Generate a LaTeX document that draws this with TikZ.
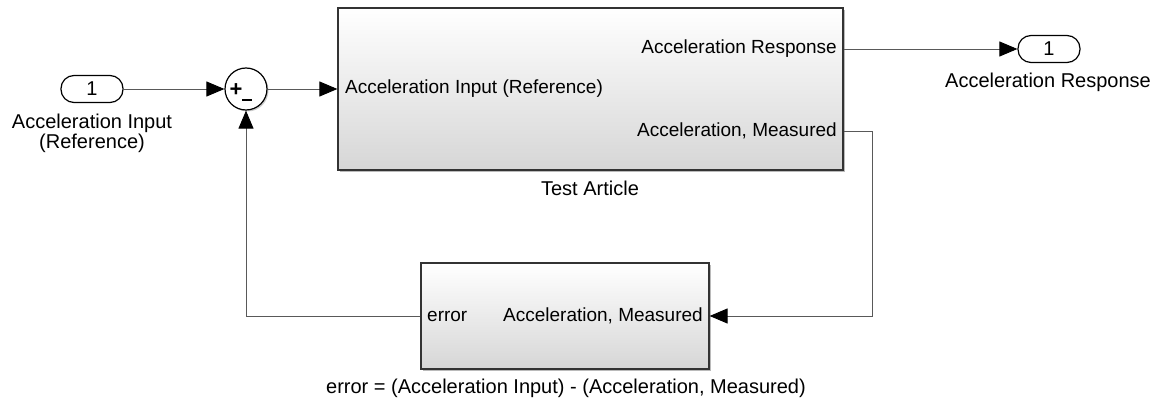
\documentclass[tikz,border=0pt]{standalone}
\usepackage{fontspec}
\setmainfont{Liberation Sans}
\usetikzlibrary{arrows.meta,shadows}
\begin{document}
\begin{tikzpicture}[x=1pt,y=-1pt,
  lbl/.style={font=\fontsize{20}{24}\selectfont, inner sep=0pt},
  plbl/.style={font=\fontsize{19}{23}\selectfont, inner sep=0pt},
  blk/.style={draw=black!80, line width=1.2pt, top color=white, bottom color=black!16,
    drop shadow={shadow xshift=2pt, shadow yshift=-2pt, fill=black!45, opacity=0.6},
    inner sep=0pt},
  pill/.style={draw=black, line width=1.2pt, rounded corners=13pt, minimum width=62pt,
    minimum height=27pt, inner sep=0pt, fill=white, font=\fontsize{20}{24}\selectfont},
  wire/.style={draw=black!65, line width=0.9pt},
  arr/.style={wire, -{Triangle[length=18pt,width=15pt,fill=black,color=black]}}
]
\useasboundingbox (0,0) rectangle (1159,403);

% inport
\node[pill] (in) at (92,89) {1};
\node[lbl] (inl1) at (92,123) {Acceleration Input};
\node[lbl] (inl2) at (92,143) {(Reference)};

% sum
\node[draw=black, line width=1.2pt, circle, minimum size=42pt, inner sep=0pt, fill=white,
  drop shadow={shadow xshift=1.5pt, shadow yshift=-1.5pt, fill=black!40, opacity=0.5}] (sum) at (246,89) {};
\node[inner sep=0pt, font=\fontsize{22}{24}\selectfont\bfseries] (plus) at (236,90) {+};
\node[inner sep=0pt] (minus) at (247,100) {\rule{10pt}{2.2pt}};

% main block
\node[blk, minimum width=505pt, minimum height=162pt] (ta) at (590.5,89) {};
\node[plbl, anchor=east] (tar) at (837,49) {Acceleration Response};
\node[plbl, anchor=west] (tai) at (345,89) {Acceleration Input (Reference)};
\node[plbl, anchor=east] (tam) at (837,131) {Acceleration, Measured};
\node[lbl] (tal) at (590,188) {Test Article};

% outport
\node[pill] (out) at (1049,49) {1};
\node[lbl] (outl) at (1048,82) {Acceleration Response};

% error block
\node[blk, minimum width=288pt, minimum height=106pt] (eb) at (565,316) {};
\node[plbl, anchor=west] (ebe) at (427,316) {error};
\node[plbl, anchor=east] (ebm) at (703,316) {Acceleration, Measured};
\node[lbl] (ebl) at (566,388) {error = (Acceleration Input) - (Acceleration, Measured)};

% coordinates
\coordinate (c1) at (872,131);
\coordinate (c2) at (872,316);
\coordinate (c3) at (246,316);

% wires
\draw[arr] (in.east) -- (sum.west);
\draw[arr] (sum.east) -- (ta.west);
\draw[arr] (ta.east |- tar) -- (out.west);
\draw[arr] (ta.east |- tam) -- (c1) -- (c2) -- (eb.east);
\draw[arr] (eb.west) -- (c3) -- (sum.south);
\end{tikzpicture}
\end{document}
